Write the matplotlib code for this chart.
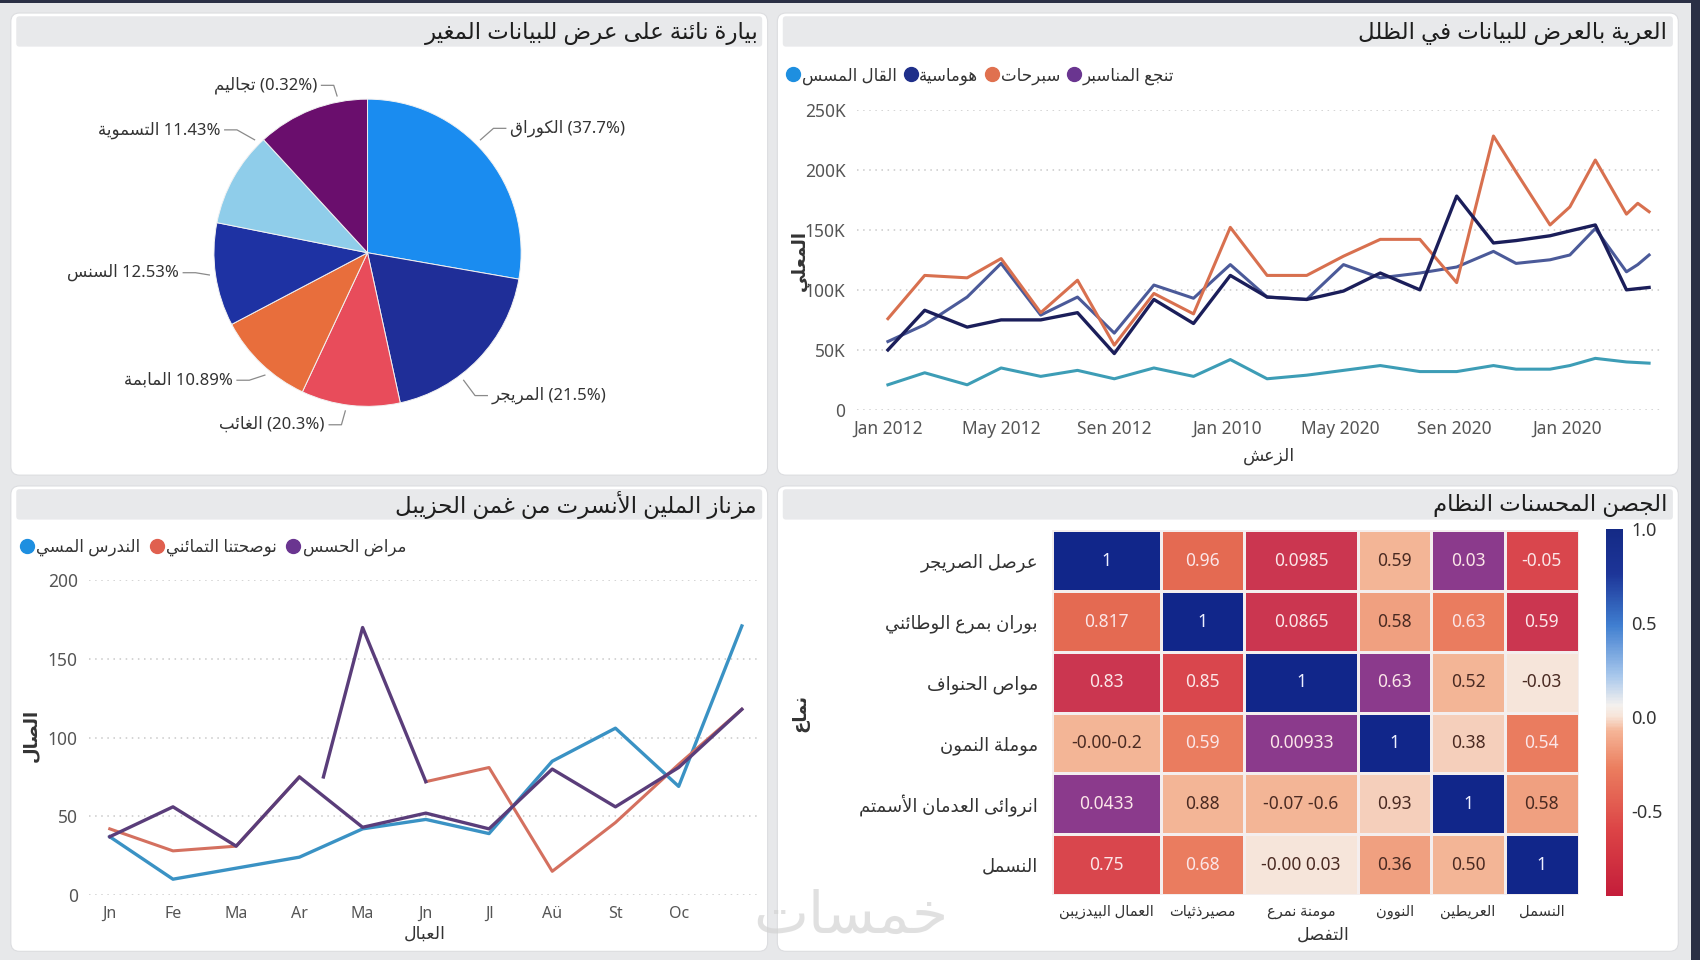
import numpy as np
import matplotlib
matplotlib.use('Agg')
import matplotlib.pyplot as plt
from matplotlib.patches import FancyBboxPatch, Rectangle
from matplotlib.colors import ListedColormap, BoundaryNorm, LinearSegmentedColormap, Normalize
from matplotlib.lines import Line2D
import matplotlib.cm as cm

plt.rcParams['font.family'] = ['Noto Sans', 'DejaVu Sans']

# ---------------- data ----------------
# pie (slice sizes read as angles from the picture, labels as printed)
pie_sizes = [99.9, 67.8, 37.4, 37.1, 39.1, 36.1, 42.6]
pie_names = ['الكوراق', 'المريجر', 'الغائب', 'المابمة', 'السنس', 'التسموية', 'تجاليم']
pie_pct = ['(37.7%)', '(21.5%)', '(20.3%)', '10.89%', '12.53%', '11.43%', '(0.32%)']

# top right line chart (x in months from Jan 2012)
tr_x = [0, 1.3, 2.8, 4.0, 5.4, 6.7, 8.0, 9.4, 10.8, 12.1, 13.4, 14.8, 16.1, 17.4,
        18.8, 20.1, 21.4, 22.2, 23.4, 24.1, 25.0, 26.1, 26.5, 26.9]
tr_orange = [76, 112, 110, 126, 81, 108, 54, 97, 80, 152, 112, 112, 128, 142,
             142, 106, 228, 198, 154, 169, 208, 163, 172, 165]
tr_navy = [50, 83, 69, 75, 75, 81, 47, 92, 72, 112, 94, 92, 99, 114,
           100, 178, 139, 141, 145, 149, 154, 100, 101, 102]
tr_slate = [57, 71, 94, 122, 79, 94, 64, 104, 93, 121, 94, 92, 121, 110,
            114, 119, 132, 122, 125, 129, 151, 115, 121, 129]
tr_teal = [21, 31, 21, 35, 28, 33, 26, 35, 28, 42, 26, 29, 33, 37,
           32, 32, 37, 34, 34, 37, 43, 40, 39.5, 39]
tr_ticks = [0, 4, 8, 12, 16, 20, 24]
tr_tick_labels = ['Jan 2012', 'May 2012', 'Sen 2012', 'Jan 2010', 'May 2020', 'Sen 2020', 'Jan 2020']
tr_legend = ['القال المسس', 'هوماسية', 'سبرحات', 'تنجع المناسبر']

# bottom left line chart
bl_labels = ['Jn', 'Fe', 'Ma', 'Ar', 'Ma', 'Jn', 'Jl', 'Aü', 'St', 'Oc']
bl_blue = [37, 10, 17, 24, 42, 48, 39, 85, 106, 69, 171]
bl_salmon = [42, 28, 31, 75, np.nan, 72, 81, 15, 46, 83, 118]
bl_purple = [37, 56, 31, 75, 43, 52, 42, 80, 56, 81, 118]
bl_spike_x = [3.38, 4, 5]
bl_spike = [75, 170, 72]
bl_legend = ['الندرس المسي', 'نوصحتنا التمائني', 'مراض الحسس']

# heatmap
hm_rows = ['عرصل الصريجر', 'بوران بمرع الوطائني', 'مواص الحنواف', 'موملة النمون',
           'انروائى العدمان الأسمتم', 'النسمل']
hm_cols = ['العمال البيدزيبن', 'مصيرذثيات', 'مومنة نمرع', 'النوون', 'العريطين', 'النسمل']
hm_text = [['1', '0.96', '0.0985', '0.59', '0.03', '-0.05'],
           ['0.817', '1', '0.0865', '0.58', '0.63', '0.59'],
           ['0.83', '0.85', '1', '0.63', '0.52', '-0.03'],
           ['-0.00-0.2', '0.59', '0.00933', '1', '0.38', '0.54'],
           ['0.0433', '0.88', '-0.07 -0.6', '0.93', '1', '0.58'],
           ['0.75', '0.68', '-0.00 0.03', '0.36', '0.50', '1']]
hm_shade = [[0, 4, 2, 7, 1, 3],
            [4, 0, 2, 6, 5, 2],
            [2, 3, 0, 1, 7, 9],
            [7, 5, 1, 0, 8, 5],
            [1, 7, 7, 8, 0, 6],
            [3, 5, 9, 6, 7, 0]]

# ---------------- arabic shaping ----------------
_FORMS = {'ء': 0xFE80, 'آ': 0xFE81, 'أ': 0xFE83, 'ؤ': 0xFE85, 'إ': 0xFE87, 'ئ': 0xFE89,
          'ا': 0xFE8D, 'ب': 0xFE8F, 'ة': 0xFE93, 'ت': 0xFE95, 'ث': 0xFE99, 'ج': 0xFE9D,
          'ح': 0xFEA1, 'خ': 0xFEA5, 'د': 0xFEA9, 'ذ': 0xFEAB, 'ر': 0xFEAD, 'ز': 0xFEAF,
          'س': 0xFEB1, 'ش': 0xFEB5, 'ص': 0xFEB9, 'ض': 0xFEBD, 'ط': 0xFEC1, 'ظ': 0xFEC5,
          'ع': 0xFEC9, 'غ': 0xFECD, 'ف': 0xFED1, 'ق': 0xFED5, 'ك': 0xFED9, 'ل': 0xFEDD,
          'م': 0xFEE1, 'ن': 0xFEE5, 'ه': 0xFEE9, 'و': 0xFEED, 'ى': 0xFEEF, 'ي': 0xFEF1}
_RIGHT = set('ءآأؤإاةدذرزوى')
_LAMALEF = {'آ': 0xFEF5, 'أ': 0xFEF7, 'إ': 0xFEF9, 'ا': 0xFEFB}


def ar(text):
    toks = []
    i = 0
    while i < len(text):
        c = text[i]
        if c == 'ل' and i + 1 < len(text) and text[i + 1] in _LAMALEF:
            toks.append(('la', text[i + 1]))
            i += 2
        else:
            toks.append(('c', c))
            i += 1

    def joins_prev(t):
        return t[0] == 'la' or (t[1] in _FORMS and t[1] != 'ء')

    def joins_next(t):
        return t[0] == 'c' and t[1] in _FORMS and t[1] not in _RIGHT

    out = []
    for k, t in enumerate(toks):
        p = k > 0 and joins_next(toks[k - 1]) and joins_prev(t)
        n = k < len(toks) - 1 and joins_next(t) and joins_prev(toks[k + 1])
        if t[0] == 'la':
            out.append(chr(_LAMALEF[t[1]] + int(p)))
        elif t[1] not in _FORMS:
            out.append(t[1])
        elif t[1] == 'ء':
            out.append(chr(_FORMS['ء']))
        elif t[1] in _RIGHT:
            out.append(chr(_FORMS[t[1]] + int(p)))
        else:
            b = _FORMS[t[1]]
            out.append(chr(b + (3 if (p and n) else 2 if n else 1 if p else 0)))
    return ''.join(out[::-1])


# ---------------- layout helpers (coords of a 1568x885 grid) ----------------
GW, GH = 1568.0, 885.0


def box(x0, y0, x1, y1):
    return [x0 / GW, 1 - y1 / GH, (x1 - x0) / GW, (y1 - y0) / GH]


def fpt(x, y):
    return x / GW, 1 - y / GH


fig = plt.figure(figsize=(17, 9.6), dpi=100)
fig.patch.set_facecolor('#e7e8ea')

bg = fig.add_axes([0, 0, 1, 1], zorder=-10)
bg.set_xlim(0, GW)
bg.set_ylim(GH, 0)
bg.axis('off')

panels = [(10, 12, 708, 438), (717, 12, 1548, 438), (10, 448, 708, 877), (717, 448, 1548, 877)]
for (x0, y0, x1, y1) in panels:
    bg.add_patch(FancyBboxPatch((x0, y0), x1 - x0, y1 - y0, boxstyle='round,pad=0,rounding_size=8',
                                fc='white', ec='#dcdde0', lw=0.8))
    bg.add_patch(FancyBboxPatch((x0 + 5, y0 + 3), x1 - x0 - 10, 28, boxstyle='round,pad=0,rounding_size=3',
                                fc='#e8e9eb', ec='none'))
bg.add_patch(Rectangle((0, 0), GW, 3, fc='#2b3045', ec='none'))
bg.add_patch(Rectangle((1560, 0), 8, GH, fc='#2b3045', ec='none'))

titles = [('بيارة نائنة على عرض للبيانات المغير', 700, 30),
          ('العرية بالعرض للبيانات في الظلل', 1538, 30),
          ('مزناز الملين الأنسرت من غمن الحزيبل', 698, 466),
          ('الجصن المحسنات النظام', 1538, 466)]
for t, x, y in titles:
    fig.text(*fpt(x, y), ar(t), ha='right', va='center', fontsize=16.5, color='#1e1e1e')

grid_kw = dict(color='#c9c9c9', lw=1.1, linestyle=(0, (1, 3)))

# ---------------- pie ----------------
pie_colors = ['#1a8cf0', '#1f2e98', '#e84c5b', '#e86e3c', '#1e32a3', '#8fcdea', '#6a0e6d']
ax = fig.add_axes(box(169, 63, 509, 403))
ax.pie(pie_sizes, colors=pie_colors, startangle=90, counterclock=False,
       wedgeprops=dict(edgecolor='#f2f2f2', linewidth=0.7))
ax.set_xlim(-1.2, 1.2)
ax.set_ylim(-1.2, 1.2)
ax.set_aspect('equal')
ax.axis('off')
lab_pos = [(0.93, 0.81), (0.81, -0.93), (-0.28, -1.12), (-0.88, -0.83), (-1.23, -0.13), (-0.96, 0.80), (-0.33, 1.09)]
lab_ang = [45, -53, -98, -130, -172, 135, 101]
for name, pct, (tx, ty), ang in zip(pie_names, pie_pct, lab_pos, lab_ang):
    a = np.deg2rad(ang)
    ex, ey = 1.04 * np.cos(a), 1.04 * np.sin(a)
    s = 1 if tx > 0 else -1
    ax.plot([ex, tx - s * 0.11, tx - s * 0.03], [ey, ty, ty], color='#8a8a8a', lw=0.9, clip_on=False)
    ax.text(tx, ty, ar(name) + ' ' + pct, ha='left' if s > 0 else 'right', va='center',
            fontsize=12, color='#333333', clip_on=False)

# ---------------- top right lines ----------------
ax = fig.add_axes(box(790, 101, 1532, 378))
ax.set_facecolor('none')
ax.plot(tr_x, np.array(tr_teal) * 1000, color='#3d9db6', lw=2.2)
ax.plot(tr_x, np.array(tr_slate) * 1000, color='#4b5a99', lw=2.2)
ax.plot(tr_x, np.array(tr_orange) * 1000, color='#d8704f', lw=2.2)
ax.plot(tr_x, np.array(tr_navy) * 1000, color='#1b1e5a', lw=2.4)
ax.set_xlim(-1.11, 27.32)
ax.set_ylim(0, 250000)
ax.set_yticks([0, 50000, 100000, 150000, 200000, 250000])
ax.set_yticklabels(['0', '50K', '100K', '150K', '200K', '250K'])
ax.set_xticks(tr_ticks)
ax.set_xticklabels(tr_tick_labels)
ax.tick_params(length=0, labelsize=12.5, colors='#555555', pad=8)
ax.tick_params(axis='x', pad=7)
for s in ax.spines.values():
    s.set_visible(False)
for v in [0, 50000, 100000, 150000, 200000, 250000]:
    ax.axhline(v, zorder=0, **grid_kw)
fig.text(*fpt(738, 240), ar('المعلي'), rotation=90, ha='center', va='center', fontsize=13, color='#333333', weight='bold')
fig.text(*fpt(1170, 420), ar('الزعش'), ha='center', va='center', fontsize=12.5, color='#333333')
leg_cols = ['#1e8fe0', '#1f2f8a', '#e0714f', '#6a3590']
handles = [Line2D([], [], ls='none', marker='o', ms=10, color=c) for c in leg_cols]
ax.legend(handles, [ar(t) for t in tr_legend], loc='center left', bbox_to_anchor=fpt(724, 70),
          bbox_transform=fig.transFigure, ncol=4, frameon=False, fontsize=12, handletextpad=0.0,
          columnspacing=0.35, handlelength=1.0, borderpad=0, borderaxespad=0, labelcolor='#333333')

# ---------------- bottom left lines ----------------
ax = fig.add_axes(box(82, 535, 700, 825))
ax.set_facecolor('none')
xs = np.arange(len(bl_blue))
ax.plot(xs, bl_blue, color='#3a92c4', lw=2.4)
ax.plot(xs, bl_salmon, color='#d4705f', lw=2.2)
ax.plot(xs, bl_purple, color='#5a3d7a', lw=2.4)
ax.plot(bl_spike_x, bl_spike, color='#5a3d7a', lw=2.4)
ax.set_xlim(-0.33, 10.27)
ax.set_ylim(0, 200)
ax.set_yticks([0, 50, 100, 150, 200])
ax.set_xticks(np.arange(len(bl_labels)))
ax.set_xticklabels(bl_labels)
ax.tick_params(length=0, labelsize=12.5, colors='#555555', pad=8)
ax.tick_params(axis='x', labelsize=11.5, pad=8)
for s in ax.spines.values():
    s.set_visible(False)
for v in [0, 50, 100, 150, 200]:
    ax.axhline(v, zorder=0, **grid_kw)
fig.text(*fpt(28, 678), ar('الصال'), rotation=90, ha='center', va='center', fontsize=13, color='#333333', weight='bold')
fig.text(*fpt(392, 861), ar('العبال'), ha='center', va='center', fontsize=12.5, color='#333333')
leg_cols = ['#1e8fe0', '#e0604f', '#6a3590']
handles = [Line2D([], [], ls='none', marker='o', ms=10, color=c) for c in leg_cols]
ax.legend(handles, [ar(t) for t in bl_legend], loc='center left', bbox_to_anchor=fpt(17, 505),
          bbox_transform=fig.transFigure, ncol=3, frameon=False, fontsize=12, handletextpad=0.05,
          columnspacing=0.5, handlelength=1.0, borderpad=0, borderaxespad=0, labelcolor='#333333')

# ---------------- heatmap ----------------
palette = ['#11268a', '#8b3a8c', '#cb3650', '#d9464d', '#e46a52', '#ea7c5f',
           '#f0a080', '#f3b596', '#f5cfbb', '#f6e5da']
col_widths = [101, 76, 106, 67, 68, 68]
col_edges = np.concatenate([[0], np.cumsum(col_widths)])
ax = fig.add_axes(box(970, 489, 1456, 825))
shade = np.array(hm_shade)
ax.pcolormesh(col_edges, np.arange(len(hm_rows) + 1), shade,
              cmap=ListedColormap(palette), norm=BoundaryNorm(np.arange(len(palette) + 1) - 0.5, len(palette)),
              edgecolors='#f4eeee', linewidth=0.8)
ax.set_xlim(0, col_edges[-1])
ax.set_ylim(len(hm_rows), 0)
centers = (col_edges[:-1] + col_edges[1:]) / 2
for r in range(len(hm_rows)):
    for c in range(len(hm_cols)):
        lvl = shade[r][c]
        tc = '#eef0ff' if lvl == 0 else ('#fbe6e8' if lvl <= 5 else '#4a2a22')
        ax.text(centers[c], r + 0.5, hm_text[r][c], ha='center', va='center', fontsize=12.5, color=tc)
ax.set_xticks(centers)
ax.set_xticklabels([ar(t) for t in hm_cols])
ax.set_yticks(np.arange(len(hm_rows)) + 0.5)
ax.set_yticklabels([ar(t) for t in hm_rows])
ax.tick_params(length=0, colors='#333333')
ax.tick_params(axis='x', labelsize=10.5, pad=7)
ax.tick_params(axis='y', labelsize=13, pad=10)
for s in ax.spines.values():
    s.set_visible(False)
fig.text(*fpt(1220, 862), ar('التفصل'), ha='center', va='center', fontsize=12.5, color='#333333')
fig.text(*fpt(738, 657), ar('نماع'), rotation=90, ha='center', va='center', fontsize=13, color='#333333', weight='bold')

cb_cmap = LinearSegmentedColormap.from_list('cb', [
    (0.0, '#c41d3a'), (0.18, '#dc4446'), (0.35, '#eb7e5f'), (0.45, '#f5b597'),
    (0.49, '#f7e4d8'), (0.52, '#f4f1ee'), (0.6, '#a9c8ec'), (0.74, '#3f7ed0'),
    (0.88, '#1d3598'), (1.0, '#142a86')])
cax = fig.add_axes(box(1481, 488, 1497, 826))
cb = fig.colorbar(cm.ScalarMappable(norm=Normalize(-0.95, 1.0), cmap=cb_cmap), cax=cax)
cb.set_ticks([1.0, 0.5, 0.0, -0.5])
cb.set_ticklabels(['1.0', '0.5', '0.0', '-0.5'])
cb.outline.set_visible(False)
cax.tick_params(length=0, labelsize=13, colors='#333333', pad=6)

fig.text(*fpt(785, 846), ar('خمسات'), ha='center', va='center', fontsize=42, color='#d4d4d4', alpha=0.7)

fig.savefig('out.png', dpi=100, facecolor=fig.get_facecolor())
